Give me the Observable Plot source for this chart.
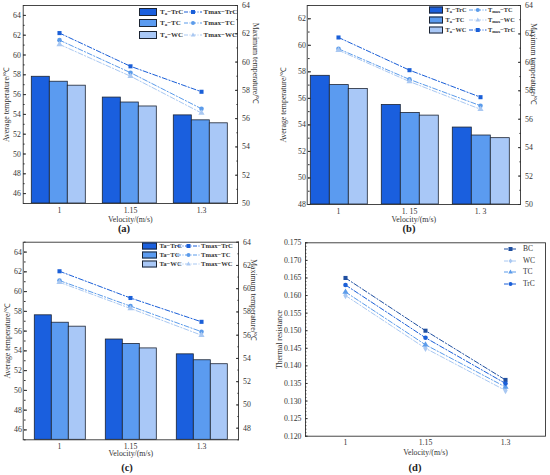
<!DOCTYPE html>
<html><head><meta charset="utf-8">
<script src="https://cdn.jsdelivr.net/npm/d3@7"></script>
<script src="https://cdn.jsdelivr.net/npm/@observablehq/plot@0.6"></script>
<style>
html,body{margin:0;padding:0;background:#fff}
#fig{position:relative;width:550px;height:475px;overflow:hidden;font-family:"Liberation Serif","Times New Roman",serif;color:#333}
.panel{position:absolute}
.panel svg{position:absolute;left:0;top:0;overflow:visible}
.cap{position:absolute;font-weight:bold;font-size:10.5px;transform:translate(-50%,-50%);color:#222}
.lg{position:absolute;font-weight:bold;white-space:nowrap;line-height:1;transform:translateY(-50%);color:#333}
.lg sub{font-size:70%;vertical-align:-0.3em;line-height:0}
.sw{position:absolute;transform:translateY(-50%);border:1px solid #1c2433;box-sizing:border-box}
</style></head><body><div id="fig"></div>
<script>
// ---------- data ----------
const velocities = ["1", "1.15", "1.3"];
const tickLabelsA = ["1", "1.15", "1.3"];
const tickLabelsB = ["1", "1. 15", "1. 3"];
const barSeries = ["TrC", "TC", "WC"];
const barColors = ["#1a5fde", "#5b9bf0", "#a9c8f7"];
const lineColors = ["#1a5fd8", "#5b9bea", "#a9c8f2"];
const lineSymbols = ["square", "circle", "triangle"];

// panel (a)
const aTaTrC = [57.8, 55.7, 53.9];
const aTaTC = [57.3, 55.2, 53.4];
const aTaWC = [56.9, 54.8, 53.1];
const aTmaxTrC = [62.05, 59.7, 57.9];
const aTmaxTC = [61.55, 59.25, 56.7];
const aTmaxWC = [61.25, 59.0, 56.4];
// panel (b)
const bTaTrC = [57.7, 55.5, 53.8];
const bTaTC = [57.0, 54.9, 53.2];
const bTaWC = [56.7, 54.7, 53.0];
const bTmaxTrC = [61.75, 59.45, 57.55];
const bTmaxTC = [60.95, 58.8, 56.95];
const bTmaxWC = [60.85, 58.65, 56.7];
// panel (c)
const cTaTrC = [57.6, 55.15, 53.65];
const cTaTC = [56.85, 54.7, 53.05];
const cTaWC = [56.45, 54.25, 52.65];
const cTmaxTrC = [61.5, 59.2, 57.15];
const cTmaxTC = [60.7, 58.5, 56.3];
const cTmaxWC = [60.55, 58.3, 56.0];
// panel (d)
const dVelocity = [1, 1.15, 1.3];
const dSeries = ["BC", "WC", "TC", "TrC"];
const dColors = ["#1f4fa0", "#a9c8f2", "#5b9bea", "#1a5fd8"];
const dSymbols = ["square", "diamond", "triangle", "circle"];
const dBC = [0.165, 0.150, 0.136];
const dWC = [0.160, 0.145, 0.133];
const dTC = [0.161, 0.146, 0.134];
const dTrC = [0.163, 0.148, 0.135];

// ---------- helpers ----------
const fig = document.getElementById("fig");
const FONT = "'Liberation Serif','Times New Roman',serif";

function makePanel(left, top, width, height) {
  const div = document.createElement("div");
  div.className = "panel";
  Object.assign(div.style, {left: left + "px", top: top + "px", width: width + "px", height: height + "px"});
  fig.appendChild(div);
  return div;
}
function symPath(sym, cx, cy, r) {
  if (sym === "square") return `<rect x="${cx - r}" y="${cy - r}" width="${2 * r}" height="${2 * r}"/>`;
  if (sym === "circle") return `<circle cx="${cx}" cy="${cy}" r="${r}"/>`;
  if (sym === "triangle") return `<path d="M${cx},${cy - r * 1.25}L${cx + r * 1.15},${cy + r * 0.8}L${cx - r * 1.15},${cy + r * 0.8}Z"/>`;
  return `<path d="M${cx},${cy - r * 1.3}L${cx + r},${cy}L${cx},${cy + r * 1.3}L${cx - r},${cy}Z"/>`;
}
function lineSwatch(parent, x1, x2, y, color, sym) {
  const w = x2 - x1;
  parent.insertAdjacentHTML("beforeend",
    `<svg style="position:absolute;left:${x1}px;top:${y - 4}px;overflow:visible" width="${w}" height="8"><line x1="0" x2="${w}" y1="4" y2="4" stroke="${color}" stroke-width="1" stroke-dasharray="4,1.5,1,1.5"/><g fill="${color}">${symPath(sym, w / 2, 4, 2)}</g></svg>`);
}
function boxSwatch(parent, x, y, w, h, color) {
  const s = document.createElement("div");
  s.className = "sw";
  Object.assign(s.style, {left: x + "px", top: y + "px", width: w + "px", height: h + "px", background: color});
  parent.appendChild(s);
}
function label(parent, x, y, html, size, bold = true) {
  const s = document.createElement("div");
  s.className = "lg";
  s.innerHTML = html;
  Object.assign(s.style, {left: x + "px", top: y + "px", fontSize: size + "px", fontWeight: bold ? "bold" : "normal"});
  parent.appendChild(s);
}
function caption(x, y, text) {
  const s = document.createElement("div");
  s.className = "cap";
  s.textContent = text;
  Object.assign(s.style, {left: x + "px", top: y + "px"});
  fig.appendChild(s);
}

function dualPanel(p) {
  const div = makePanel(p.left, p.top, p.width, p.height);
  const style = {fontFamily: FONT, fontSize: "7.8px", color: "#333", background: "transparent", overflow: "visible"};
  const barData = [];
  p.bars.forEach((vals, j) => vals.forEach((v, i) => barData.push({v: velocities[i], s: barSeries[j], t: v})));
  const lineData = [];
  p.lines.forEach((vals, j) => vals.forEach((v, i) => lineData.push({v: velocities[i], s: barSeries[j], t: v})));

  const svgBars = Plot.plot({
    width: p.width, height: p.height,
    marginLeft: p.ml + p.shiftL, marginRight: p.mr + p.shiftR, marginTop: p.mt, marginBottom: p.mb,
    style,
    fx: {domain: velocities, padding: 0, axis: null},
    x: {domain: barSeries, paddingInner: 0, paddingOuter: p.po, axis: null},
    y: {domain: p.yL, axis: null},
    color: {domain: barSeries, range: barColors},
    marks: [
      Plot.barY(barData, {fx: "v", x: "s", y1: () => p.yL[0], y2: "t", fill: "s", stroke: "#1c2433", strokeWidth: 0.8}),
      Plot.axisY({anchor: "left", ticks: d3.range(p.yL[0], p.yL[1] + 0.01, 1), tickSize: -1.6, tickFormat: () => "", label: null, dx: -p.shiftL}),
      Plot.axisY({anchor: "left", ticks: p.ticksL, tickSize: -3, tickPadding: 5.7, dx: -p.shiftL,
        label: p.labelL, labelAnchor: "center", labelArrow: "none", labelOffset: p.loL})
    ]
  });
  const svgLines = Plot.plot({
    width: p.width, height: p.height,
    marginLeft: p.ml, marginRight: p.mr, marginTop: p.mt, marginBottom: p.mb,
    style,
    x: {type: "point", domain: velocities, padding: 0.5, insetLeft: p.shiftL, insetRight: p.shiftR},
    y: {domain: p.yR},
    color: {domain: barSeries, range: lineColors},
    symbol: {domain: barSeries, range: lineSymbols},
    marks: [
      Plot.frame({stroke: "#333", strokeWidth: 0.9}),
      Plot.lineY(lineData, {x: "v", y: "t", z: "s", stroke: "s", strokeWidth: 1, strokeDasharray: "5,2,1.2,2"}),
      Plot.dot(lineData, {x: "v", y: "t", fill: "s", symbol: "s", r: 2.3}),
      Plot.axisY({anchor: "right", ticks: d3.range(p.yR[0], p.yR[1] + 0.01, 1), tickSize: -1.6, tickFormat: () => "", label: null}),
      Plot.axisY({anchor: "right", ticks: p.ticksR, tickSize: -3, tickPadding: 7.5, label: null}),
      Plot.text([p.labelR], {text: d => d, frameAnchor: "right", rotate: 90, dx: p.dxR, fill: "#333"}),
      Plot.axisX({tickSize: 0, tickPadding: p.tp, tickFormat: d => p.xLabels[velocities.indexOf(d)],
        label: "Velocity/(m/s)", labelAnchor: "center", labelArrow: "none", labelOffset: p.loX})
    ]
  });
  div.appendChild(svgBars);
  div.appendChild(svgLines);
  return div;
}

// ---------- panel (a) ----------
const pa = dualPanel({
  left: 0, top: 0, width: 275, height: 225, ml: 22.7, mr: 38, mt: 5, mb: 22, shiftL: 0, shiftR: 0,
  yL: [45, 65], ticksL: d3.range(46, 65, 2), yR: [50, 64], ticksR: d3.range(50, 65, 2),
  bars: [aTaTrC, aTaTC, aTaWC], lines: [aTmaxTrC, aTmaxTC, aTmaxWC], xLabels: tickLabelsA,
  po: 0.46, loL: 20, dxR: 18, loX: 18, tp: 4,
  labelL: "Average temperature/℃", labelR: "Maximum temperature/℃"
});
[11.7, 23.3, 34.8].forEach((y, i) => {
  boxSwatch(pa, 139, y, 18, 8, barColors[i]);
  label(pa, 160, y, `T<sub>a</sub>−${barSeries[i]}`, 7);
  lineSwatch(pa, 184, 202, y, lineColors[i], lineSymbols[i]);
  label(pa, 203.5, y, `Tmax−${barSeries[i]}`, 7);
});
caption(124, 228, "(a)");

// ---------- panel (b) ----------
const pb = dualPanel({
  left: 275, top: 0, width: 275, height: 225, ml: 31.7, mr: 30, mt: 5, mb: 21, shiftL: -5, shiftR: 3,
  yL: [48, 63], ticksL: d3.range(48, 63, 2), yR: [50, 64], ticksR: d3.range(50, 65, 2),
  bars: [bTaTrC, bTaTC, bTaWC], lines: [bTmaxTrC, bTmaxTC, bTmaxWC], xLabels: tickLabelsB,
  po: 0.36, loL: 23, dxR: 12.5, loX: 17, tp: 4,
  labelL: "Average temperature/℃", labelR: "Maximum temperature/℃"
});
const bLineOrder = [1, 2, 0];
[10, 19.8, 29.5].forEach((y, i) => {
  boxSwatch(pb, 154, y, 14, 7, barColors[i]);
  label(pb, 170.5, y, `T<sub>a</sub>−${barSeries[i]}`, 6.3);
  const k = bLineOrder[i];
  lineSwatch(pb, 194, 211.5, y, lineColors[k], lineSymbols[k]);
  label(pb, 213, y, `T<sub>max</sub>−${barSeries[k]}`, 6.3);
});
caption(409, 228, "(b)");

// ---------- panel (c) ----------
const pc = dualPanel({
  left: 0, top: 230, width: 275, height: 235, ml: 22.7, mr: 37, mt: 11.7, mb: 25.7, shiftL: 0, shiftR: 0,
  yL: [45, 65], ticksL: d3.range(46, 65, 2), yR: [47, 64], ticksR: d3.range(48, 65, 2),
  bars: [cTaTrC, cTaTC, cTaWC], lines: [cTmaxTrC, cTmaxTC, cTmaxWC], xLabels: tickLabelsA,
  po: 0.5, loL: 20, dxR: 15.3, loX: 16.5, tp: 3.5,
  labelL: "Average temperature/℃", labelR: "Maximum temperature/℃"
});
[16, 25.2, 34.4].forEach((y, i) => {
  boxSwatch(pc, 141.7, y, 15, 7, barColors[i]);
  label(pc, 159.5, y, `Ta−${barSeries[i]}`, 6.6);
  lineSwatch(pc, 177, 200, y, lineColors[i], lineSymbols[i]);
  label(pc, 201, y, `Tmax−${barSeries[i]}`, 6.6);
});
caption(127, 467, "(c)");

// ---------- panel (d) ----------
const pd = makePanel(275, 230, 275, 235);
const dData = [];
[dBC, dWC, dTC, dTrC].forEach((vals, j) => vals.forEach((v, i) => dData.push({x: dVelocity[i], s: dSeries[j], t: v})));
pd.appendChild(Plot.plot({
  width: 275, height: 235, marginLeft: 30, marginRight: 5, marginTop: 12.3, marginBottom: 29.3,
  style: {fontFamily: FONT, fontSize: "7.8px", color: "#333", background: "transparent", overflow: "visible"},
  x: {domain: [0.925, 1.375]},
  y: {domain: [0.12, 0.175]},
  color: {domain: dSeries, range: dColors},
  symbol: {domain: dSeries, range: dSymbols},
  marks: [
    Plot.frame({stroke: "#333", strokeWidth: 0.9}),
    Plot.axisY({ticks: d3.range(120, 176).map(d => d / 1000), tickSize: -1.4, tickFormat: () => "", label: null}),
    Plot.axisY({ticks: d3.range(120, 176, 5).map(d => d / 1000), tickSize: -2.6, tickPadding: 6.6, tickFormat: d3.format(".3f"),
      label: "Thermal resistance", labelAnchor: "center", labelArrow: "none", labelOffset: 29}),
    Plot.axisX({ticks: dVelocity, tickSize: 0, tickPadding: 3.5, tickFormat: d => String(d),
      label: "Velocity/(m/s)", labelAnchor: "center", labelArrow: "none", labelOffset: 19}),
    Plot.lineY(dData, {x: "x", y: "t", z: "s", stroke: "s", strokeWidth: 1, strokeDasharray: "5,2,1.2,2"}),
    Plot.dot(dData, {x: "x", y: "t", fill: "s", symbol: "s", r: 2.3})
  ]
}));
[19, 30.5, 42, 53.5].forEach((y, i) => {
  lineSwatch(pd, 229, 242, y, dColors[i], dSymbols[i]);
  label(pd, 248, y, dSeries[i], 7.5, false);
});
caption(415, 467, "(d)");
</script></body></html>
